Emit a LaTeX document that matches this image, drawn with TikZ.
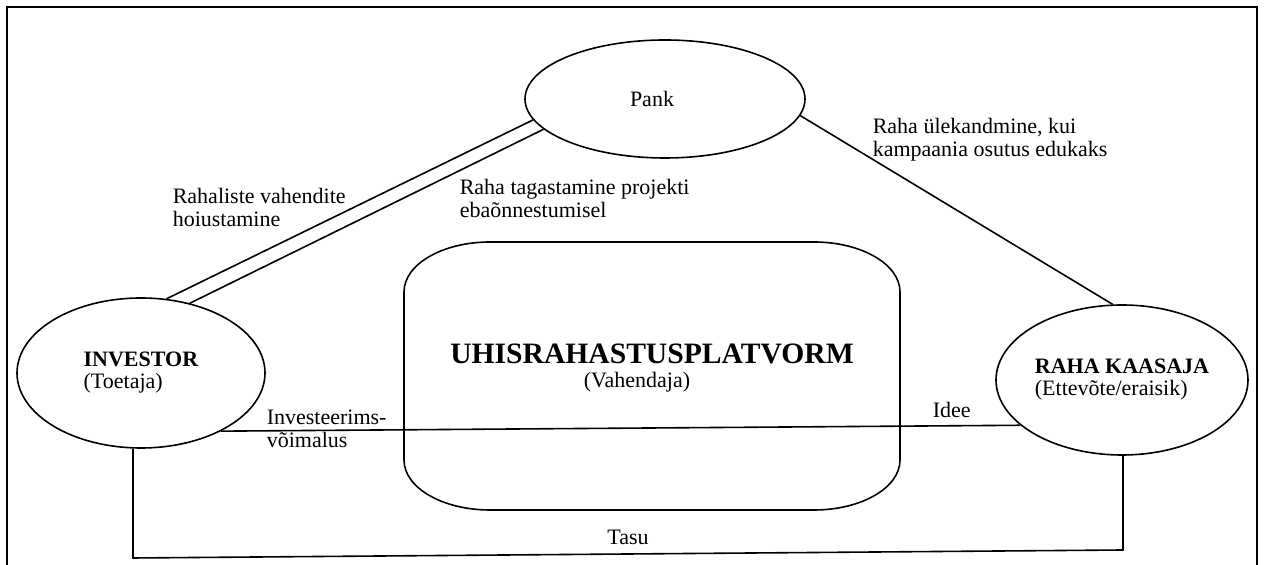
\documentclass[tikz,border=0pt]{standalone}
\usepackage{fontspec}
\setmainfont{Liberation Serif}
\usetikzlibrary{shapes.geometric}
\begin{document}
\begin{tikzpicture}[x=0.5pt,y=-0.5pt,line width=0.8pt,
    party/.style={draw,ellipse,inner sep=0pt,align=left,font=\fontsize{11}{11}\selectfont},
    lbl/.style={anchor=base west,inner sep=0pt,align=left,font=\fontsize{11}{11.8}\selectfont}]
  \useasboundingbox (0,0) rectangle (1265,565);
  \draw[line width=1.15pt] (7,565) -- (7,7) -- (1257,7) -- (1257,565);
  % osapooled
  \node[party,minimum width=140pt,minimum height=59pt] (pank) at (665,99) {Pank\hspace*{13pt}};
  \node[party,minimum width=124pt,minimum height=75pt] (inv) at (141,373) {\textbf{INVESTOR}\\(Toetaja)};
  \node[party,minimum width=126pt,minimum height=75pt] (kaas) at (1122,380) {\textbf{RAHA KAASAJA}\\(Ettevõte/eraisik)};
  \node[align=center,inner sep=0pt,font=\fontsize{11}{12}\selectfont] (plat) at (652,368)
    {{\fontsize{14.8}{15}\selectfont\bfseries UHISRAHASTUSPLATVORM}\\(Vahendaja)\hspace*{15pt}};
  \draw (490,242) -- (814,242) .. controls (861,242) and (900,264) .. (900,292)
    -- (900,460) .. controls (900,488) and (861,510) .. (814,510)
    -- (490,510) .. controls (443,510) and (404,488) .. (404,460)
    -- (404,292) .. controls (404,264) and (443,242) .. (490,242) -- cycle;
  % rahavood
  \draw (inv.71) -- (pank.189);
  \draw (inv.55) -- (pank.194);
  \draw (pank.-7.5) -- (kaas.97);
  \draw (inv.-36) -- (kaas.204);
  \coordinate (tl) at (133,558);
  \coordinate (tr) at (1123,550);
  \draw (inv.south -| tl) -- (tl) -- node[above=1pt,font=\fontsize{11}{11}\selectfont] (tasu) {Tasu} (tr) -- (kaas.south -| tr);
  \node[lbl] (hoius) at (172,227) {Rahaliste vahendite\\hoiustamine};
  \node[lbl] (tagast) at (459,218) {Raha tagastamine projekti\\ebaõnnestumisel};
  \node[lbl] (ylek) at (872,157) {Raha ülekandmine, kui\\kampaania osutus edukaks};
  \node[lbl] (voim) at (266,448) {Investeerims-\\võimalus};
  \node[lbl] (idee) at (932,418) {Idee};
\end{tikzpicture}
\end{document}
